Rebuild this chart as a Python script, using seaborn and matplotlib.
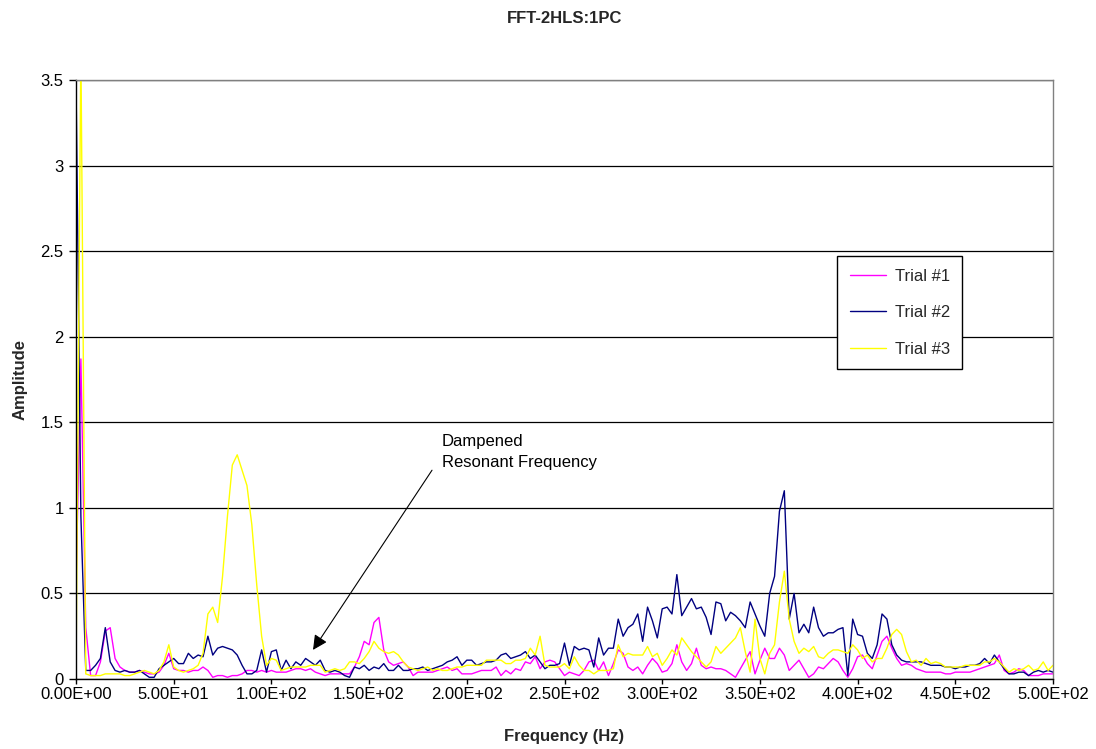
import numpy as np
import pandas as pd
import matplotlib
matplotlib.use("Agg")
import matplotlib.pyplot as plt
from matplotlib.ticker import FuncFormatter, MultipleLocator
from matplotlib.lines import Line2D
import seaborn as sns

# FFT spectra, one amplitude value every 2.5 Hz from 0 to 500 Hz
freq_step = 2.5
freq_max = 500.0

trial_1 = [
    0.55, 1.87, 0.3, 0.02, 0.02, 0.1, 0.28, 0.3, 0.12, 0.07,
    0.05, 0.04, 0.04, 0.05, 0.04, 0.03, 0.03, 0.04, 0.08, 0.15,
    0.06, 0.05, 0.05, 0.04, 0.05, 0.05, 0.07, 0.05, 0.01, 0.02,
    0.02, 0.01, 0.02, 0.02, 0.03, 0.05, 0.05, 0.04, 0.05, 0.04,
    0.05, 0.04, 0.04, 0.04, 0.05, 0.06, 0.06, 0.05, 0.06, 0.04,
    0.03, 0.02, 0.03, 0.03, 0.03, 0.03, 0.03, 0.07, 0.13, 0.22,
    0.2, 0.33, 0.36, 0.17, 0.1, 0.08, 0.09, 0.1, 0.07, 0.02,
    0.04, 0.04, 0.04, 0.04, 0.05, 0.06, 0.07, 0.05, 0.06, 0.03,
    0.03, 0.03, 0.04, 0.05, 0.05, 0.05, 0.07, 0.02, 0.05, 0.03,
    0.06, 0.05, 0.1, 0.09, 0.13, 0.06, 0.1, 0.11, 0.1, 0.06,
    0.02, 0.04, 0.03, 0.02, 0.05, 0.1, 0.11, 0.05, 0.1, 0.02,
    0.09, 0.17, 0.15, 0.07, 0.05, 0.07, 0.03, 0.08, 0.12, 0.09,
    0.04, 0.05, 0.09, 0.2, 0.1, 0.05, 0.09, 0.18, 0.08, 0.06,
    0.07, 0.06, 0.06, 0.05, 0.03, 0.01, 0.06, 0.11, 0.16, 0.03,
    0.11, 0.18, 0.12, 0.12, 0.18, 0.14, 0.05, 0.08, 0.11, 0.06,
    0.01, 0.03, 0.07, 0.06, 0.09, 0.12, 0.1, 0.05, 0.01, 0.06,
    0.13, 0.14, 0.09, 0.06, 0.14, 0.22, 0.25, 0.18, 0.12, 0.08,
    0.09, 0.08, 0.06, 0.05, 0.04, 0.04, 0.04, 0.04, 0.03, 0.03,
    0.04, 0.04, 0.04, 0.04, 0.05, 0.06, 0.07, 0.08, 0.09, 0.14,
    0.05, 0.03, 0.04, 0.06, 0.05, 0.02, 0.02, 0.02, 0.03, 0.03,
    0.03,
]

trial_2 = [
    3.5, 0.95, 0.05, 0.05, 0.08, 0.12, 0.3, 0.1, 0.05, 0.04,
    0.05, 0.04, 0.04, 0.05, 0.03, 0.01, 0.01, 0.06, 0.08, 0.1,
    0.12, 0.09, 0.09, 0.15, 0.12, 0.14, 0.13, 0.25, 0.14, 0.18,
    0.19, 0.18, 0.17, 0.14, 0.08, 0.03, 0.03, 0.05, 0.17, 0.04,
    0.16, 0.17, 0.05, 0.11, 0.06, 0.1, 0.08, 0.12, 0.1, 0.08,
    0.11, 0.05, 0.04, 0.05, 0.04, 0.02, 0.01, 0.07, 0.06, 0.08,
    0.05, 0.07, 0.06, 0.09, 0.05, 0.05, 0.08, 0.05, 0.05, 0.06,
    0.06, 0.07, 0.05, 0.06, 0.07, 0.08, 0.1, 0.11, 0.13, 0.08,
    0.11, 0.11, 0.08, 0.09, 0.1, 0.1, 0.11, 0.14, 0.15, 0.12,
    0.13, 0.14, 0.16, 0.12, 0.14, 0.1, 0.06, 0.08, 0.08, 0.09,
    0.21, 0.08, 0.19, 0.17, 0.18, 0.17, 0.07, 0.24, 0.14, 0.18,
    0.18, 0.35, 0.25, 0.3, 0.32, 0.38, 0.22, 0.42, 0.34, 0.24,
    0.41, 0.42, 0.38, 0.61, 0.37, 0.42, 0.47, 0.41, 0.42, 0.36,
    0.26, 0.45, 0.44, 0.34, 0.39, 0.37, 0.34, 0.3, 0.45, 0.38,
    0.31, 0.25, 0.5, 0.6, 0.98, 1.1, 0.35, 0.5, 0.27, 0.32,
    0.27, 0.42, 0.3, 0.25, 0.27, 0.27, 0.29, 0.3, 0.02, 0.35,
    0.26, 0.25, 0.15, 0.12, 0.2, 0.38, 0.35, 0.2, 0.14, 0.11,
    0.1, 0.1, 0.1, 0.1, 0.09, 0.08, 0.08, 0.08, 0.07, 0.07,
    0.06, 0.07, 0.07, 0.08, 0.08, 0.09, 0.12, 0.09, 0.14, 0.1,
    0.06, 0.03, 0.03, 0.04, 0.04, 0.02, 0.04, 0.05, 0.04, 0.05,
    0.04,
]

trial_3 = [
    0.0, 3.7, 0.03, 0.02, 0.02, 0.02, 0.03, 0.03, 0.03, 0.03,
    0.02, 0.02, 0.03, 0.04, 0.05, 0.04, 0.03, 0.05, 0.1, 0.2,
    0.07, 0.05, 0.04, 0.05, 0.06, 0.08, 0.15, 0.38, 0.42, 0.33,
    0.6, 0.95, 1.25, 1.31, 1.22, 1.13, 0.9, 0.55, 0.25, 0.08,
    0.12, 0.11, 0.05, 0.06, 0.07, 0.07, 0.07, 0.07, 0.08, 0.08,
    0.08, 0.04, 0.05, 0.06, 0.05, 0.06, 0.1, 0.1, 0.09, 0.12,
    0.16, 0.22, 0.18, 0.16, 0.15, 0.16, 0.14, 0.1, 0.07, 0.06,
    0.05, 0.06, 0.07, 0.05, 0.06, 0.05, 0.05, 0.06, 0.07, 0.07,
    0.08, 0.08, 0.08, 0.08, 0.11, 0.11, 0.11, 0.11, 0.09, 0.09,
    0.11, 0.11, 0.12, 0.18, 0.14, 0.25, 0.08, 0.07, 0.07, 0.07,
    0.09, 0.06, 0.13, 0.08, 0.05, 0.05, 0.03, 0.05, 0.05, 0.05,
    0.06, 0.2, 0.13, 0.15, 0.14, 0.14, 0.14, 0.19, 0.13, 0.15,
    0.08, 0.12, 0.17, 0.14, 0.24, 0.2, 0.16, 0.13, 0.1, 0.07,
    0.1, 0.19, 0.15, 0.18, 0.21, 0.24, 0.3, 0.16, 0.04, 0.35,
    0.12, 0.03, 0.15, 0.2, 0.45, 0.63, 0.35, 0.22, 0.15, 0.18,
    0.16, 0.19, 0.13, 0.12, 0.15, 0.17, 0.17, 0.16, 0.15, 0.2,
    0.17, 0.12, 0.14, 0.1, 0.12, 0.12, 0.18, 0.26, 0.29, 0.26,
    0.16, 0.1, 0.11, 0.08, 0.12, 0.09, 0.1, 0.09, 0.07, 0.07,
    0.07, 0.07, 0.08, 0.08, 0.08, 0.08, 0.1, 0.1, 0.12, 0.1,
    0.07, 0.04, 0.06, 0.05, 0.06, 0.08, 0.05, 0.06, 0.1, 0.05,
    0.08,
]

trial_names = ["Trial #1", "Trial #2", "Trial #3"]
trial_colors = ["#FF00FF", "#000080", "#FFFF00"]

freq = np.arange(0, freq_max + freq_step / 2, freq_step)

frames = []
for name, amps in zip(trial_names, [trial_1, trial_2, trial_3]):
    frames.append(pd.DataFrame({"Frequency": freq, "Amplitude": amps, "Trial": name}))
df = pd.concat(frames, ignore_index=True)

sns.set_style("white")
plt.rcParams["font.family"] = ["Liberation Sans", "DejaVu Sans"]
plt.rcParams["font.size"] = 12

fig = plt.figure(figsize=(10.96, 7.49), dpi=100)
ax = fig.add_axes([76 / 1096, 70 / 749, 977 / 1096, 599 / 749])

sns.lineplot(
    data=df, x="Frequency", y="Amplitude", hue="Trial",
    hue_order=trial_names, palette=trial_colors,
    estimator=None, errorbar=None, sort=False, linewidth=1.0,
    legend=False, ax=ax,
)

ax.set_xlim(0, freq_max)
ax.set_ylim(0, 3.5)
ax.xaxis.set_major_locator(MultipleLocator(50))
ax.yaxis.set_major_locator(MultipleLocator(0.5))
ax.xaxis.set_major_formatter(FuncFormatter(lambda v, p: f"{v:.2E}"))
ax.yaxis.set_major_formatter(FuncFormatter(lambda v, p: f"{v:g}"))

ax.yaxis.grid(True, color="black", linewidth=0.9)
ax.xaxis.grid(False)
ax.set_axisbelow(True)

for side in ["left", "bottom"]:
    ax.spines[side].set_color("black")
    ax.spines[side].set_linewidth(1.0)
for side in ["top", "right"]:
    ax.spines[side].set_color("#808080")
    ax.spines[side].set_linewidth(1.0)

ax.tick_params(axis="both", which="major", direction="out", color="black",
               labelsize=12, labelcolor="black", bottom=True, left=True)
ax.tick_params(axis="x", length=3.5, width=1, pad=2.5)
ax.tick_params(axis="y", length=5, width=1, pad=4)

ax.set_xlabel("Frequency (Hz)", fontsize=12, fontweight="bold")
ax.set_ylabel("Amplitude", fontsize=12, fontweight="bold")
ax.xaxis.set_label_coords(0.5, -0.083)
ax.yaxis.set_label_coords(-0.05, 0.5)
ax.set_title("FFT-2HLS:1PC", fontsize=12, fontweight="bold", pad=41)

handles = [Line2D([], [], color=c, linewidth=1.0) for c in trial_colors]
leg = ax.legend(
    handles, trial_names, loc="upper left", bbox_to_anchor=(0.779, 0.706),
    frameon=True, fancybox=False, shadow=False, fontsize=12,
    handlelength=2.2, handletextpad=0.5, labelspacing=1.3,
    borderpad=0.75, borderaxespad=0.0,
)
leg.get_frame().set_edgecolor("black")
leg.get_frame().set_linewidth(1.0)
leg.get_frame().set_facecolor("white")
leg.get_frame().set_alpha(1.0)

# note pointing at the damped resonance near 120 Hz
ax.annotate(
    "", xy=(121.3, 0.17), xytext=(182.2, 1.22),
    arrowprops=dict(arrowstyle="-|>", color="black", lw=0.8,
                    mutation_scale=22, shrinkA=0, shrinkB=0),
)
ax.text(187.3, 1.43, "Dampened\nResonant Frequency", fontsize=12,
        ha="left", va="top", linespacing=1.5, color="black")

fig.savefig("out.png", dpi=100, facecolor="white")
